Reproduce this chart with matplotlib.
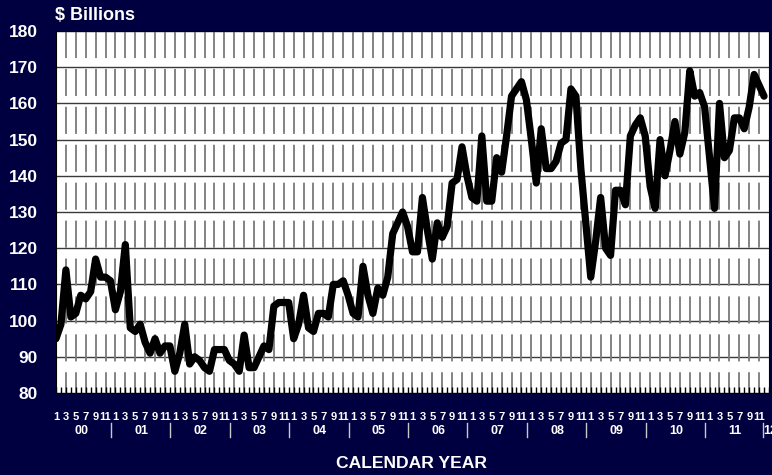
import matplotlib.pyplot as plt
from matplotlib.transforms import blended_transform_factory

plt.rcParams["font.family"] = ["Liberation Sans", "DejaVu Sans"]
plt.rcParams["font.weight"] = "bold"

NAVY = "#000040"

# monthly values, Jan 2000 .. Dec 2011 ($ billions)
values = [
    95, 99, 114, 101, 102, 107, 106, 108, 117, 112, 112, 111,  # 2000
    103, 108, 121, 98, 97, 99, 94, 91, 95, 91, 93, 93,  # 2001
    86, 91, 99, 88, 90, 89, 87, 86, 92, 92, 92, 89,  # 2002
    88, 86, 96, 87, 87, 90, 93, 92, 104, 105, 105, 105,  # 2003
    95, 99, 107, 98, 97, 102, 102, 101, 110, 110, 111, 107,  # 2004
    102, 101, 115, 107, 102, 109, 107, 112, 124, 127, 130, 126,  # 2005
    119, 119, 134, 125, 117, 127, 123, 126, 138, 139, 148, 140,  # 2006
    134, 133, 151, 133, 133, 145, 141, 151, 162, 164, 166, 161,  # 2007
    150, 138, 153, 142, 142, 144, 149, 150, 164, 162, 142, 127,  # 2008
    112, 122, 134, 120, 118, 136, 136, 132, 151, 154, 156, 151,  # 2009
    137, 131, 150, 140, 147, 155, 146, 152, 169, 162, 163, 159,  # 2010
    145, 131, 160, 145, 147, 156, 156, 153, 159, 168, 165, 162,  # 2011
]
month_labels = ["1", "3", "5", "7", "9", "11"]
year_labels = ["00", "01", "02", "03", "04", "05", "06", "07", "08", "09", "10", "11"]
y_ticks = [80, 90, 100, 110, 120, 130, 140, 150, 160, 170, 180]

fig = plt.figure(figsize=(7.72, 4.75), dpi=100, facecolor=NAVY)
ax = fig.add_axes([56 / 772, 1 - 393 / 475, 713 / 772, 362 / 475])
ax.set_facecolor("white")

x = list(range(len(values)))
ax.set_xlim(0.15, 144)
ax.set_ylim(80, 180)

# grid
for v in y_ticks:
    ax.axhline(v, color="#3a3a3a", lw=1.0, zorder=1)
ax.vlines(range(2, 144, 2), 180, 80, colors="#7a7a7a", lw=1.3,
          linestyles=(0, (15, 6)), zorder=1)

ax.plot(x, values, color="black", lw=5.2, solid_joinstyle="round",
        solid_capstyle="round", zorder=3)

ax.set_yticks(y_ticks)
ax.set_yticklabels([str(v) for v in y_ticks], color="white", fontsize=12.5,
                   fontweight="bold")
ax.tick_params(axis="y", length=0, pad=13)
ax.set_xticks(range(0, 145))
ax.set_xticklabels([])
ax.tick_params(axis="x", direction="in", length=4, width=1, color="black")
for s in ax.spines.values():
    s.set_color("black")
    s.set_linewidth(0.8)

tr = ax.get_xaxis_transform()
for k, yl in enumerate(year_labels):
    for m, ml in enumerate(month_labels):
        ax.text(12 * k + 2 * m, -0.066, ml, transform=tr, ha="center",
                va="center", color="white", fontsize=8, fontweight="bold")
    ax.text(12 * k + 5.2, -0.105, yl, transform=tr, ha="center", va="center",
            color="white", fontsize=9, fontweight="bold")
    if k > 0:
        ax.plot([12 * k - 0.9] * 2, [-0.083, -0.122], transform=tr,
                color="#c8c8c8", lw=1, clip_on=False)
ax.plot([142.7] * 2, [-0.083, -0.122], transform=tr, color="#c8c8c8", lw=1,
        clip_on=False)
fig.text(763 / 772, 1 - 431 / 475, "12", ha="left", va="center",
         color="white", fontsize=9, fontweight="bold")

fig.text(55 / 772, 1 - 15 / 475, "$ Billions", ha="left", va="center",
         color="white", fontsize=13, fontweight="bold")
fig.text(411 / 772, 1 - 464 / 475, "CALENDAR YEAR", ha="center", va="center",
         color="white", fontsize=12.6, fontweight="bold")

fig.savefig("out.png", dpi=100, facecolor=NAVY)
